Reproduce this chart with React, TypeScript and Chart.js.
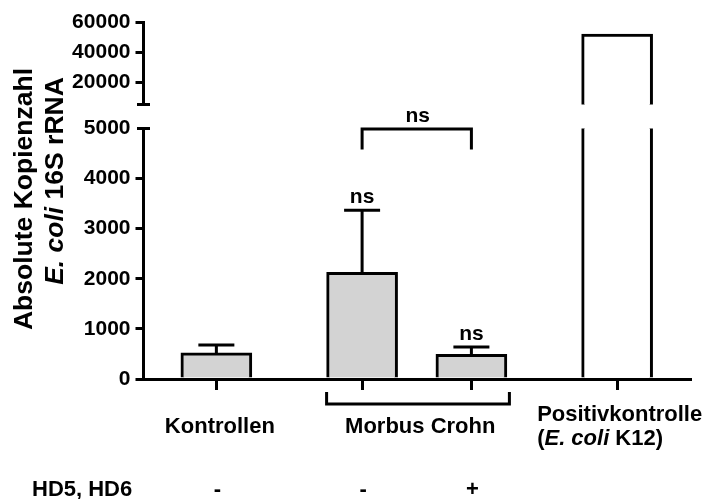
import React, { useEffect, useRef } from 'react';
import { Chart, registerables } from 'chart.js';

Chart.register(...registerables);

// ---- data ----
const groupLabels = ['Kontrollen', 'Morbus Crohn', 'Morbus Crohn', 'Positivkontrolle'];
const hdLabels = ['-', '-', '+', ''];
const meanValues = [520, 2130, 490, 52000];
const sdUpper = [160, 1240, 150, 0];
const sigLabels = ['', 'ns', 'ns', ''];
const bottomTicks = [0, 1000, 2000, 3000, 4000, 5000];
const topTicks = [20000, 40000, 60000];
const bottomRange = [0, 5000];
const topRange = [5000, 60000];
const bracketText = 'ns';
const bracketValue = 4990;
const bracketLegValue = 4580;
const rowTitle = 'HD5, HD6';

// ---- layout (not data) ----
const SLOT_COUNT = 16;
const barSlots = [2, 6, 9, 13];
const FONT = "'Liberation Sans', Arial, Helvetica, sans-serif";
const font = (size: number, italic = false) => `${italic ? 'italic ' : ''}bold ${size}px ${FONT}`;
const GREY = '#d3d3d3';

const slotLabels = Array.from({ length: SLOT_COUNT }, (_, i) => String(i));
const slotOf = (arr: any[]) => {
  const out: any[] = Array(SLOT_COUNT).fill(null);
  barSlots.forEach((s, i) => (out[s] = arr[i]));
  return out;
};

function drawRich(ctx: CanvasRenderingContext2D, parts: [string, boolean][], size: number, x: number, y: number, align: 'left' | 'center') {
  let total = 0;
  const widths = parts.map(([t, it]) => {
    ctx.font = font(size, it);
    const w = ctx.measureText(t).width;
    total += w;
    return w;
  });
  let cx = align === 'center' ? x - total / 2 : x;
  ctx.textAlign = 'left';
  parts.forEach(([t, it], i) => {
    ctx.font = font(size, it);
    ctx.fillText(t, cx, y);
    cx += widths[i];
  });
}

const overlayPlugin = {
  id: 'overlay',
  afterDraw(chart: any) {
    const ctx: CanvasRenderingContext2D = chart.ctx;
    const xs = chart.scales.x;
    const yb = chart.scales.y;
    const yt = chart.scales.yTop;
    const px = (i: number) => xs.getPixelForValue(barSlots[i]);
    const axisX = yb.right;
    ctx.save();
    ctx.strokeStyle = '#000';
    ctx.fillStyle = '#000';
    ctx.lineWidth = 3;
    ctx.lineCap = 'butt';
    ctx.lineJoin = 'miter';

    // axis break marks
    [yt.bottom, yb.top].forEach((yy: number) => {
      ctx.beginPath();
      ctx.moveTo(axisX - 6.5, yy);
      ctx.lineTo(axisX + 6.5, yy);
      ctx.stroke();
    });

    // error bars + significance labels
    meanValues.forEach((m, i) => {
      const sd = sdUpper[i];
      const x = px(i);
      if (sd > 0) {
        const y0 = yb.getPixelForValue(m);
        const y1 = yb.getPixelForValue(m + sd);
        ctx.beginPath();
        ctx.moveTo(x, y0);
        ctx.lineTo(x, y1);
        ctx.moveTo(x - 18, y1);
        ctx.lineTo(x + 18, y1);
        ctx.stroke();
        if (sigLabels[i]) {
          ctx.font = font(21);
          ctx.textAlign = 'center';
          ctx.textBaseline = 'alphabetic';
          ctx.fillText(sigLabels[i], x, y1 - 7);
        }
      }
    });

    // comparison bracket
    {
      const x1 = px(1), x2 = px(2);
      const yB = yb.getPixelForValue(bracketValue);
      const yL = yb.getPixelForValue(bracketLegValue);
      ctx.beginPath();
      ctx.moveTo(x1, yL);
      ctx.lineTo(x1, yB);
      ctx.lineTo(x2, yB);
      ctx.lineTo(x2, yL);
      ctx.stroke();
      ctx.font = font(21);
      ctx.textAlign = 'center';
      ctx.fillText(bracketText, (x1 + x2) / 2 + 1, yB - 7.5);
    }

    // group bracket below axis (Morbus Crohn)
    const base = yb.bottom;
    {
      const xl = px(1) - 35.5;
      const xr = px(2) + 38;
      ctx.beginPath();
      ctx.moveTo(xl, base + 13);
      ctx.lineTo(xl, base + 25);
      ctx.lineTo(xr, base + 25);
      ctx.lineTo(xr, base + 13);
      ctx.stroke();
    }

    // category labels
    ctx.textBaseline = 'alphabetic';
    ctx.font = font(22);
    ctx.textAlign = 'center';
    ctx.fillText(groupLabels[0], px(0) + 3.5, base + 54);
    ctx.fillText(groupLabels[1], (px(1) + px(2)) / 2 + 3.5, base + 54);
    ctx.textAlign = 'left';
    const posLeft = px(3) - 80;
    ctx.fillText(groupLabels[3], posLeft, base + 42);
    drawRich(ctx, [['(', false], ['E. coli', true], [' K12)', false]], 22, posLeft, base + 66, 'left');

    // HD row
    ctx.font = font(22);
    ctx.textAlign = 'left';
    ctx.fillText(rowTitle, 32, base + 117);
    ctx.textAlign = 'center';
    hdLabels.forEach((t, i) => {
      if (t) ctx.fillText(t, px(i) + 1, base + 117);
    });

    // y axis title
    const midY1 = 199;
    const midY2 = 181;
    ctx.save();
    ctx.translate(32, midY1);
    ctx.rotate(-Math.PI / 2);
    ctx.font = font(26.5);
    ctx.textAlign = 'center';
    ctx.fillText('Absolute Kopienzahl', 0, 0);
    ctx.restore();
    ctx.save();
    ctx.translate(63, midY2);
    ctx.rotate(-Math.PI / 2);
    drawRich(ctx, [['E. coli', true], [' 16S rRNA', false]], 26.5, 0, 0, 'center');
    ctx.restore();

    ctx.restore();
  },
};

export default function App() {
  const ref = useRef<HTMLCanvasElement | null>(null);
  useEffect(() => {
    if (!ref.current) return;
    const tickFont = { family: FONT, size: 21, weight: 'bold' as const };
    const bottomData = slotOf(meanValues);
    const topData = slotOf(meanValues.map((v) => (v > topRange[0] ? v : null)));
    const fills = slotOf(meanValues.map((v) => (v > bottomRange[1] ? '#ffffff' : GREY)));
    const chart = new Chart(ref.current, {
      type: 'bar',
      data: {
        labels: slotLabels,
        datasets: [
          {
            data: bottomData,
            xAxisID: 'x',
            yAxisID: 'y',
            backgroundColor: fills.map((c) => c || GREY),
            borderColor: '#000',
            borderWidth: 3,
            barThickness: 71,
            grouped: false,
            clip: 0,
            borderSkipped: 'start',
          } as any,
          {
            data: topData,
            xAxisID: 'x',
            yAxisID: 'yTop',
            backgroundColor: '#ffffff',
            borderColor: '#000',
            borderWidth: 3,
            barThickness: 71,
            grouped: false,
            clip: 0,
            borderSkipped: 'start',
          } as any,
        ],
      },
      options: {
        responsive: false,
        animation: false,
        devicePixelRatio: 1,
        layout: { padding: { top: 22, right: 12, bottom: 0, left: 0 } },
        plugins: { legend: { display: false }, tooltip: { enabled: false }, title: { display: false } },
        scales: {
          x: {
            type: 'category',
            offset: false,
            grid: {
              offset: false,
              drawOnChartArea: false,
              drawTicks: true,
              tickLength: 11,
              lineWidth: 3,
              color: (c: any) => (barSlots.includes(c.index) ? '#000' : 'rgba(0,0,0,0)'),
            },
            border: { display: true, color: '#000', width: 3 },
            ticks: { display: false, autoSkip: false },
            afterFit: (s: any) => {
              s.height = 120;
            },
          },
          y: {
            type: 'linear',
            position: 'left',
            stack: 'ax',
            stackWeight: 250.5,
            weight: 1,
            min: bottomRange[0],
            max: bottomRange[1],
            afterBuildTicks: (s: any) => {
              s.ticks = bottomTicks.map((v) => ({ value: v }));
            },
            ticks: { font: tickFont, color: '#000', padding: 5, autoSkip: false, callback: (v: any) => String(v) },
            grid: {
              drawOnChartArea: false,
              tickLength: 8,
              lineWidth: 3,
              color: (c: any) => (c.tick && c.tick.value === bottomRange[1] ? 'rgba(0,0,0,0)' : '#000'),
            },
            border: { display: true, color: '#000', width: 3 },
            afterFit: (s: any) => {
              s.width = 143.5;
            },
          },
          yGap: {
            type: 'linear',
            position: 'left',
            stack: 'ax',
            stackWeight: 24,
            weight: 2,
            min: 0,
            max: 1,
            ticks: { display: false },
            grid: { display: false },
            border: { display: false },
            afterFit: (s: any) => {
              s.width = 143.5;
            },
          },
          yTop: {
            type: 'linear',
            position: 'left',
            stack: 'ax',
            stackWeight: 82.5,
            weight: 3,
            min: topRange[0],
            max: topRange[1],
            afterBuildTicks: (s: any) => {
              s.ticks = topTicks.map((v) => ({ value: v }));
            },
            ticks: { font: tickFont, color: '#000', padding: 5, autoSkip: false, callback: (v: any) => String(v) },
            grid: { drawOnChartArea: false, tickLength: 8, lineWidth: 3, color: '#000' },
            border: { display: true, color: '#000', width: 3 },
            afterFit: (s: any) => {
              s.width = 143.5;
            },
          },
        } as any,
      },
      plugins: [overlayPlugin],
    });
    return () => chart.destroy();
  }, []);
  return (
    <div style={{ position: 'absolute', left: 0, top: 0, width: 702, height: 499, background: '#fff' }}>
      <canvas ref={ref} width={702} height={499} />
    </div>
  );
}
